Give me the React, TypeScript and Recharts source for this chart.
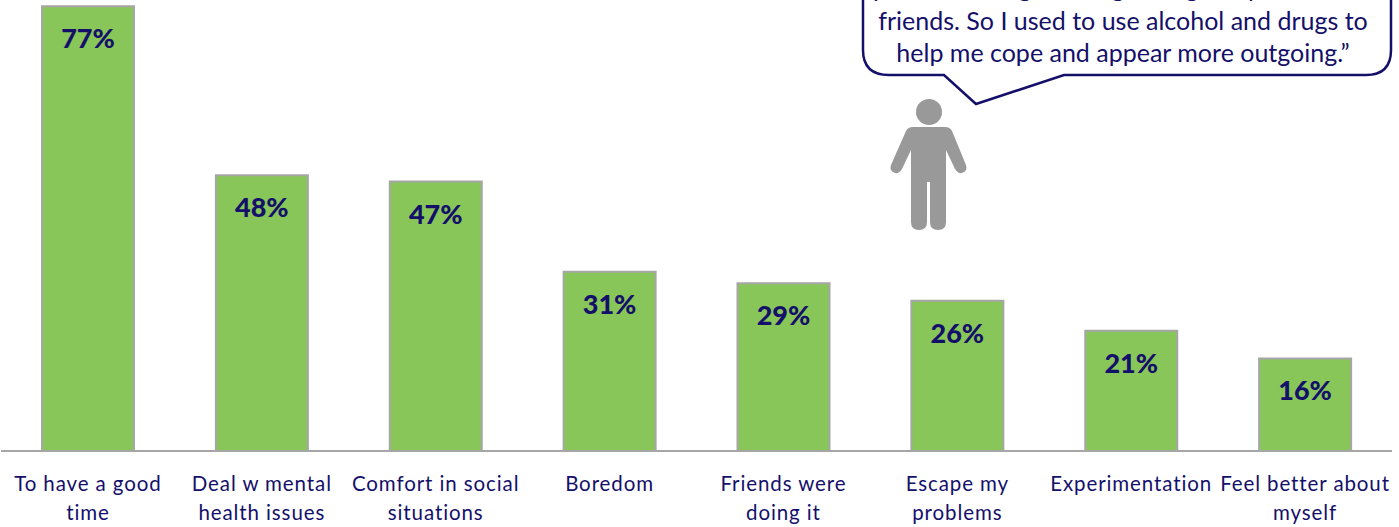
import React from 'react';
import { BarChart, Bar, XAxis, YAxis, LabelList } from 'recharts';

const categories = [
  'To have a good|time',
  'Deal w mental|health issues',
  'Comfort in social|situations',
  'Boredom',
  'Friends were|doing it',
  'Escape my|problems',
  'Experimentation',
  'Feel better about|myself',
];
// the labels show them rounded
const values = [76.9, 47.7, 46.6, 31, 29, 26, 20.8, 16];
const quoteLines = [
  'friends. So I used to use alcohol and drugs to',
  'help me cope and appear more outgoing.”',
];
// the line above runs off the top of the page, only these descenders show
const cutLetters = ['p', 'g', 'g', 'g', 'p'];
const cutLetterX = [880, 1025, 1118, 1192, 1255];

const data = categories.map((name, i) => ({ name, value: values[i] }));

const NAVY = '#14106a';

const CategoryTick = ({ x, y, payload }: any) => {
  const lines = String(payload.value).split('|');
  return (
    <text x={x} textAnchor="middle" fontFamily="Lato, sans-serif" fontSize={20.5} fill={NAVY} letterSpacing={0.9}>
      {lines.map((l, i) => (
        <tspan key={i} x={x} y={y + 32 + i * 29}>{l}</tspan>
      ))}
    </text>
  );
};

const PercentLabel = ({ x, y, width, value }: any) => (
  <text x={x + width / 2} y={y + 42} textAnchor="middle" fontFamily="Lato, sans-serif" fontWeight={900} fontSize={27} fill={NAVY}>
    {Math.round(value)}%
  </text>
);

const App = () => (
  <div style={{ position: 'absolute', left: 0, top: 0, width: 1399, height: 527, background: '#fff' }}>
    <BarChart width={1399} height={527} data={data} margin={{ top: 0, right: 7, bottom: 0, left: 1 }}>
      <YAxis hide domain={[0, 78]} />
      <XAxis
        dataKey="name"
        interval={0}
        height={76}
        axisLine={{ stroke: '#a6a6a6', strokeWidth: 2 }}
        tickLine={false}
        tick={<CategoryTick />}
      />
      <Bar dataKey="value" fill="#88c659" stroke="#a6a6a6" strokeWidth={2} barSize={92} isAnimationActive={false}>
        <LabelList dataKey="value" content={<PercentLabel />} />
      </Bar>
    </BarChart>
    <svg width={1399} height={527} style={{ position: 'absolute', left: 0, top: 0, pointerEvents: 'none' }}>
      {/* speech bubble, its top runs off the page */}
      <path
        d="M863 -5 L863 50 Q863 75 889 75 L944 75 L976 104 L1064 75 L1366 75 Q1391 75 1391 50 L1391 -5"
        fill="#fff"
        stroke={NAVY}
        strokeWidth={2.5}
      />
      <g fontFamily="Lato, sans-serif" fontSize={25} fill={NAVY} textAnchor="middle">
        {cutLetters.map((l, i) => (
          <text key={i} x={cutLetterX[i]} y={-3}>{l}</text>
        ))}
        {quoteLines.map((l, i) => (
          <text key={i} x={1123} y={30 + i * 32}>{l}</text>
        ))}
      </g>
      {/* person icon */}
      <g fill="#999999">
        <circle cx={929} cy={112} r={13} />
        <path d="M913 127 L945 127 Q950 127 952 131 L966 165 Q968 171 962 173 Q958 174 955 169 L946 150 L946 222 Q946 230 938 230 Q930 230 930 222 L930 182 L927 182 L927 222 Q927 230 919 230 Q911 230 911 222 L911 150 L902 169 Q899 174 895 173 Q889 171 891 165 L906 131 Q908 127 913 127 Z" />
      </g>
    </svg>
  </div>
);

export default App;
